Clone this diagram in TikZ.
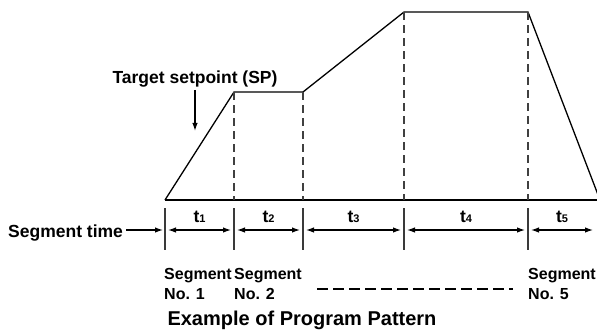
\documentclass[tikz,border=0pt]{standalone}
\usepackage{fontspec}
\setmainfont{Liberation Sans}
\usetikzlibrary{arrows.meta,positioning}
\definecolor{kesikGri}{HTML}{404040}
\definecolor{cetvelGri}{HTML}{3A3A3A}
\newcommand{\altnum}[1]{{\fontsize{11}{11}\selectfont #1}}

\begin{document}
\begin{tikzpicture}[x=1pt, y=-1pt,
  every node/.style={font=\bfseries\fontsize{17.5}{18}\selectfont, inner sep=0pt},
  profil/.style={line width=1.3pt, line join=miter},
  kesik/.style={kesikGri, line width=1.5pt, dash pattern=on 8pt off 5pt},
  cetvel/.style={cetvelGri, line width=1.5pt},
  olcu/.style={{Latex[length=8pt,width=5.5pt]}-{Latex[length=8pt,width=5.5pt]}, line width=1.2pt},
  tekOk/.style={-{Latex[length=8pt,width=5.5pt]}, line width=1.2pt},
  segEtiket/.style={anchor=base west, align=left, font=\bfseries\fontsize{16}{20}\selectfont}]
\useasboundingbox (0,0) rectangle (597,330);
\clip (0,0) rectangle (597,330);
% program profile
\coordinate (p0) at (165,200);
\coordinate (p1) at (234,92);
\coordinate (p2) at (303,92);
\coordinate (p3) at (404,12);
\coordinate (p4) at (528,12);
\coordinate (p5) at (600,200);
\coordinate (bSon) at (597,200);
\draw[profil] (p0) -- (p1) -- (p2) -- (p3) -- (p4) -- (p5);
\draw[profil] (p0) -- (bSon);
\foreach \i in {1,...,4} \draw[kesik] (p\i) -- (p\i |- p0);
% segment time scale
\foreach \n/\x in {0/165, 1/234, 2/303, 3/404, 4/528} {
  \coordinate (u\n) at (\x,208);
  \coordinate (l\n) at (\x,250);
  \coordinate (m\n) at (\x,230);
  \draw[cetvel] (u\n) -- (l\n);
}
\coordinate (m5) at (596,230);
\foreach \a/\b/\t in {0/1/1, 1/2/2, 2/3/3, 3/4/4, 4/5/5}
  \draw[olcu] ([xshift=3pt]m\a) -- ([xshift=-3pt]m\b)
    node[midway, yshift=8pt, anchor=base] {t\altnum{\t}};
\node[anchor=base west] (segZaman) at (8,237) {Segment time};
\draw[tekOk] (segZaman.east |- m0) ++(3,0) -- ([xshift=-2pt]m0);
% target setpoint
\node[anchor=base] (hedef) at (195,83) {Target setpoint (SP)};
\draw[tekOk] (hedef.south) ++(0,3) -- ++(0,41);
% segment numbers
\node[segEtiket] (seg1) at (164,299) {Segment\\No. 1};
\node[segEtiket] (seg2) at (234,299) {Segment\\No. 2};
\node[segEtiket] (seg5) at (528,299) {Segment\\No. 5};
\coordinate (dSol) at (317,289);
\coordinate (dSag) at (513,289);
\draw[line width=1.2pt, dash pattern=on 11pt off 5pt] (dSol) -- (dSag);
\node[anchor=base, font=\bfseries\fontsize{20}{22}\selectfont] (baslik) at (302,325) {Example of Program Pattern};
\end{tikzpicture}
\end{document}
